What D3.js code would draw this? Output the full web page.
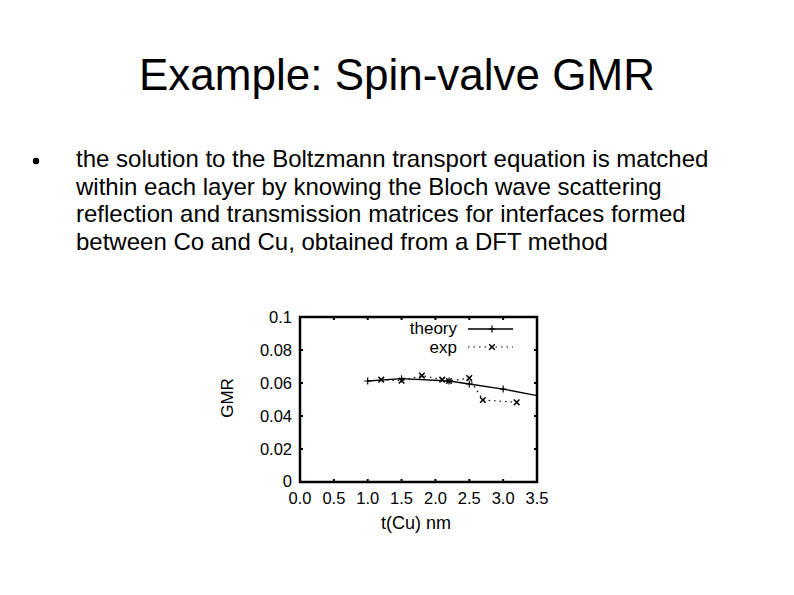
<!DOCTYPE html>
<html>
<head>
<meta charset="utf-8">
<style>
    body { margin: 0; background: white; }
    svg { font-family: "Liberation Sans", Arial, sans-serif; }
    .frame { fill: none; stroke: black; stroke-width: 2.5; }
</style>
</head>
<body>
<div id="plateau"></div>
<script src="https://cdn.jsdelivr.net/npm/d3@7"></script>
<script>

//////////////////// donnees ////////////////////
let theory_x = [1.0, 1.5, 2.2, 2.5, 3.0, 3.5];
let theory_y = [0.0612, 0.0626, 0.0612, 0.0594, 0.0563, 0.0524];

let exp_x = [1.2, 1.5, 1.8, 2.1, 2.2, 2.5, 2.7, 3.2];
let exp_y = [0.0620, 0.0614, 0.0645, 0.0620, 0.0612, 0.0630, 0.0497, 0.0483];

let x_ticks = [0.0, 0.5, 1.0, 1.5, 2.0, 2.5, 3.0, 3.5];
let y_ticks = [0, 0.02, 0.04, 0.06, 0.08, 0.1];
let y_labels = ['0', '0.02', '0.04', '0.06', '0.08', '0.1'];

let bullet_lines = [
    'the solution to the Boltzmann transport equation is matched',
    'within each layer by knowing the Bloch wave scattering',
    'reflection and transmission matrices for interfaces formed',
    'between Co and Cu, obtained from a DFT method'
];

//////////////////// page ////////////////////
let W = 794, H = 595;
let svg = d3.select('#plateau').append('svg')
    .attr('width', W)
    .attr('height', H);

svg.append('text')
    .attr('x', 397)
    .attr('y', 90)
    .attr('text-anchor', 'middle')
    .style('font-size', '44px')
    .text('Example: Spin-valve GMR');

svg.append('circle')
    .attr('cx', 36)
    .attr('cy', 161)
    .attr('r', 3.2);

bullet_lines.forEach((l, i) => {
    svg.append('text')
        .attr('x', 76)
        .attr('y', 167 + i * 27.5)
        .style('font-size', '24px')
        .text(l);
});

//////////////////// graphe ////////////////////
let L = 300, R = 537, T = 317, B = 482;
let x = d3.scaleLinear().domain([0, 3.5]).range([L, R]);
let y = d3.scaleLinear().domain([0, 0.1]).range([B, T]);

function texte(sel, tx, ty, txt, size, anchor) {
    sel.append('text')
        .attr('x', tx)
        .attr('y', ty)
        .attr('text-anchor', anchor)
        .style('font-size', size + 'px')
        .text(txt);
}

let tick_len = 3;
// ticks en dedans (style gnuplot)
let g = svg.append('g');
x_ticks.forEach(t => {
    g.append('line').attr('x1', x(t)).attr('x2', x(t)).attr('y1', B).attr('y2', B - tick_len).attr('stroke', 'black').attr('stroke-width', 2);
    g.append('line').attr('x1', x(t)).attr('x2', x(t)).attr('y1', T).attr('y2', T + tick_len).attr('stroke', 'black').attr('stroke-width', 2);
    texte(g, x(t), 504, t.toFixed(1), 16.5, 'middle');
});
y_ticks.forEach((t, i) => {
    g.append('line').attr('x1', L).attr('x2', L + tick_len).attr('y1', y(t)).attr('y2', y(t)).attr('stroke', 'black').attr('stroke-width', 2);
    g.append('line').attr('x1', R).attr('x2', R - tick_len).attr('y1', y(t)).attr('y2', y(t)).attr('stroke', 'black').attr('stroke-width', 2);
    texte(g, 292, Math.min(y(t) + 6, 487), y_labels[i], 16.5, 'end');
});

g.append('rect').classed('frame', true)
    .attr('x', L).attr('y', T).attr('width', R - L).attr('height', B - T);

texte(svg, 416, 529, 't(Cu) nm', 18, 'middle');

svg.append('text')
    .attr('transform', `translate(233, 398) rotate(-90)`)
    .attr('text-anchor', 'middle')
    .style('font-size', '17px')
    .text('GMR');

// marqueurs
function plus(sel, cx, cy, s) {
    sel.append('path').attr('d', `M ${cx - s} ${cy} L ${cx + s} ${cy} M ${cx} ${cy - s} L ${cx} ${cy + s}`)
        .attr('stroke', 'black').attr('stroke-width', 1.2);
}
function croix(sel, cx, cy, s) {
    sel.append('path').attr('d', `M ${cx - s} ${cy - s} L ${cx + s} ${cy + s} M ${cx - s} ${cy + s} L ${cx + s} ${cy - s}`)
        .attr('stroke', 'black').attr('stroke-width', 1.5);
}

let theory = theory_x.map((v, i) => [v, theory_y[i]]);
let exp = exp_x.map((v, i) => [v, exp_y[i]]);
let line = d3.line().x(d => x(d[0])).y(d => y(d[1]));

svg.append('path').attr('d', line(theory))
    .attr('fill', 'none').attr('stroke', 'black').attr('stroke-width', 1.3);
theory.slice(0, -1).forEach(d => plus(svg, x(d[0]), y(d[1]), 3.5));

svg.append('path').attr('d', line(exp))
    .attr('fill', 'none').attr('stroke', 'black').attr('stroke-width', 1.2)
    .attr('stroke-dasharray', '1.5,4');
exp.forEach(d => croix(svg, x(d[0]), y(d[1]), 2.8));

// legende
let leg = svg.append('g');
texte(leg, 457, 334, 'theory', 17, 'end');
leg.append('line').attr('x1', 468).attr('x2', 513).attr('y1', 329).attr('y2', 329).attr('stroke', 'black').attr('stroke-width', 1.3);
plus(leg, 492, 329, 3.5);
texte(leg, 457, 353, 'exp', 17, 'end');
leg.append('line').attr('x1', 468).attr('x2', 513).attr('y1', 347).attr('y2', 347).attr('stroke', 'black').attr('stroke-width', 1.2).attr('stroke-dasharray', '1.5,4');
croix(leg, 492, 347, 2.8);

</script>
</body>
</html>
